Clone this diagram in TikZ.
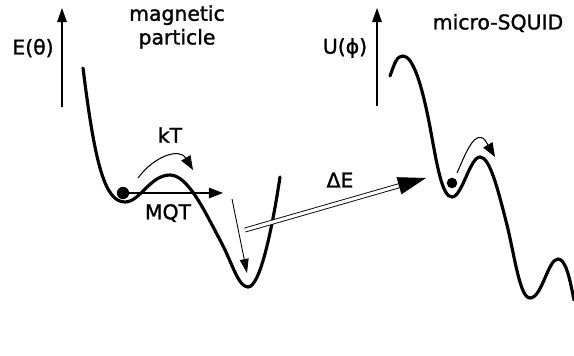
\documentclass[tikz,border=0pt]{standalone}
\usepackage{fontspec}
\setmainfont{DejaVu Sans}
\newfontfamily\lblfont[AutoFakeBold=1.2]{DejaVu Sans}
\usetikzlibrary{arrows.meta,calc}
\begin{document}
\begin{tikzpicture}[x=0.02cm,y=-0.02cm,
  lbl/.style={font=\lblfont\bfseries\fontsize{11.6}{13.5}\selectfont, inner sep=0pt, align=center},
  curve/.style={line width=1.8pt, line cap=round},
  axis/.style={line width=0.7pt, -{Triangle[length=8pt,width=5.5pt]}},
  thin/.style={line width=0.6pt, -{Triangle[length=8pt,width=6pt]}},
  ball/.style={circle, fill=black, inner sep=0pt, minimum size=7pt}]
\useasboundingbox (0,0) rectangle (574,355);
% left potential
\draw[curve] (83,68) .. controls (95,165) and (105,202) .. (125,202)
  .. controls (140,202) and (150,175) .. (170,175)
  .. controls (188,175) and (205,212) .. (220,240)
  .. controls (232,262) and (238,287) .. (248,287)
  .. controls (260,287) and (272,230) .. (280,177);
% right potential
\draw[curve] (390,76) .. controls (395,62) and (397,56) .. (403,56)
  .. controls (413,56) and (422,85) .. (430,127)
  .. controls (437,165) and (442,197) .. (452,197)
  .. controls (462,197) and (470,157) .. (480,157)
  .. controls (490,157) and (498,190) .. (507,225)
  .. controls (515,258) and (520,298) .. (530,298)
  .. controls (542,298) and (548,259) .. (558,259)
  .. controls (566,259) and (570,280) .. (574,300);
% axes
\coordinate (e0) at (62,107); \coordinate (e1) at (62,8);
\draw[axis] (e0) -- (e1);
\coordinate (u0) at (377,106); \coordinate (u1) at (377,8);
\draw[axis] (u0) -- (u1);
\node[lbl] (elab) at (33,48) {E(θ)};
\node[lbl] (ulab) at (345,48) {U(ϕ)};
\node[lbl] (mp) at (177,27) {magnetic\\particle};
\node[lbl] (ms) at (498,23) {micro-SQUID};
% balls
\node[ball] (b1) at (123,193) {};
\node[ball, minimum size=6pt] (b2) at (452,183) {};
% kT arrow
\coordinate (k0) at (138,178); \coordinate (k1) at (193,170);
\draw[thin] (k0) .. controls (155,155) and (180,148) .. (k1);
\node[lbl] (kt) at (170,135) {kT};
% MQT arrow
\coordinate (m1) at (223,193);
\draw[thin] (b1.center) -- (m1);
\node[lbl] (mqt) at (168,213) {MQT};
% down arrow
\coordinate (d0) at (232,199); \coordinate (d1) at (247,273);
\draw[line width=0.5pt, -{Triangle[length=8pt,width=5pt]}] (d0) -- (d1);
% Delta E double arrow
\coordinate (de0) at (245,230); \coordinate (de1) at (426,178);
\draw[double, double distance=1.8pt, line width=0.5pt, shorten >=10pt] (de0) -- (de1);
\draw[-{Triangle[length=16pt,width=10pt]}, line width=0.5pt] ($(de0)!0.85!(de1)$) -- (de1);
\node[lbl] (delta) at (340,180) {ΔE};
% right small arrow
\coordinate (r0) at (457,173); \coordinate (r1) at (495,157);
\draw[thin] (r0) .. controls (467,150) and (475,130) .. (485,140) -- (r1);
\end{tikzpicture}
\end{document}
